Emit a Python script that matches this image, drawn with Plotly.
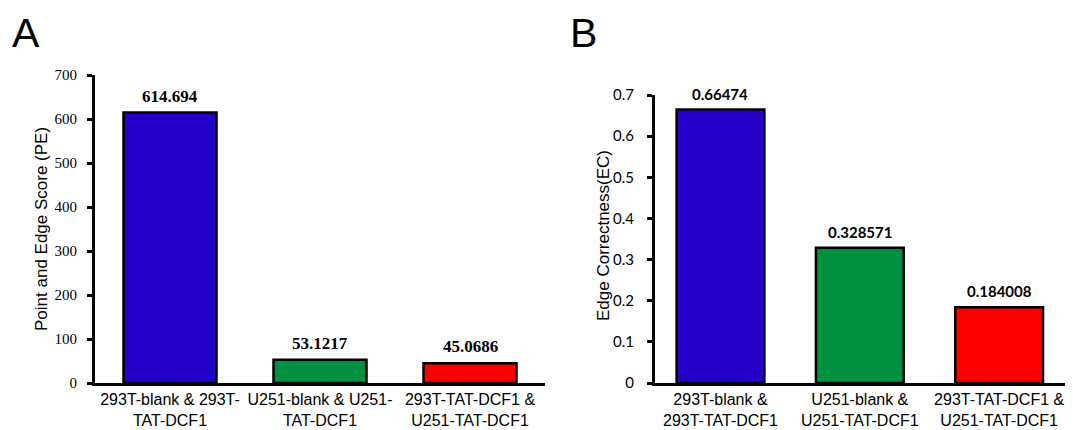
import plotly.graph_objects as go

categories_a = ["293T-blank & 293T-<br>TAT-DCF1", "U251-blank & U251-<br>TAT-DCF1", "293T-TAT-DCF1 &<br>U251-TAT-DCF1"]
categories_b = ["293T-blank &<br>293T-TAT-DCF1", "U251-blank &<br>U251-TAT-DCF1", "293T-TAT-DCF1 &<br>U251-TAT-DCF1"]
pe_values = [614.694, 53.1217, 45.0686]
ec_values = [0.66474, 0.328571, 0.184008]
bar_colors = ["#2400C8", "#00913F", "#FF0000"]
pe_ticks = [0, 100, 200, 300, 400, 500, 600, 700]
ec_ticks = [0, 0.1, 0.2, 0.3, 0.4, 0.5, 0.6, 0.7]
ec_ticktext = ["0", "0.1", "0.2", "0.3", "0.4", "0.5", "0.6", "0.7"]

# page has an 8px body margin, so the figure is drawn 8px smaller and coords are offset
OFF = 8
W, H = 1073 - OFF, 430 - OFF


def px(x):
    return (x - OFF) / W


def py(y):
    return 1 - (y - OFF) / H


fig = go.Figure()

fig.add_trace(go.Bar(x=categories_a, y=pe_values, marker=dict(color=bar_colors, line=dict(color="black", width=2.5)),
                     xaxis="x", yaxis="y", width=0.62, showlegend=False, hoverinfo="skip"))
fig.add_trace(go.Bar(x=categories_b, y=ec_values, marker=dict(color=bar_colors, line=dict(color="black", width=2.5)),
                     xaxis="x2", yaxis="y2", width=0.63, showlegend=False, hoverinfo="skip"))

annotations = []
for c, v in zip(categories_a, pe_values):
    annotations.append(dict(x=c, y=v, xref="x", yref="y", text=f"<b>{v}</b>", showarrow=False,
                            yanchor="bottom", yshift=5,
                            font=dict(family="Liberation Serif", size=17, color="black")))
for c, v in zip(categories_b, ec_values):
    annotations.append(dict(x=c, y=v, xref="x2", yref="y2", text=f"<b>{v}</b>", showarrow=False,
                            yanchor="bottom", yshift=5,
                            font=dict(family="Lato", size=15, color="black")))

annotations += [
    dict(x=px(10), y=py(8), xref="paper", yref="paper", text="A", showarrow=False,
         xanchor="left", yanchor="top", font=dict(family="Liberation Sans", size=41, color="black")),
    dict(x=px(568), y=py(8), xref="paper", yref="paper", text="B", showarrow=False,
         xanchor="left", yanchor="top", font=dict(family="Liberation Sans", size=41, color="black")),
    dict(x=px(41), y=py(229), xref="paper", yref="paper", text="Point and Edge Score (PE)", showarrow=False,
         textangle=-90, xanchor="center", yanchor="middle", font=dict(family="Liberation Sans", size=17, color="black")),
    dict(x=px(603), y=py(236), xref="paper", yref="paper", text="Edge Correctness(EC)", showarrow=False,
         textangle=-90, xanchor="center", yanchor="middle", font=dict(family="Liberation Sans", size=17, color="black")),
]

axis_common = dict(showline=True, linecolor="black", linewidth=3, showgrid=False, zeroline=False, automargin=False)

fig.update_layout(
    width=W, height=H, margin=dict(l=0, r=0, t=0, b=0, autoexpand=False),
    paper_bgcolor="white", plot_bgcolor="white",
    annotations=annotations,
    xaxis=dict(domain=[px(95), px(545)], anchor="y", range=[-0.5, 2.5], ticks="",
               tickfont=dict(family="Liberation Sans", size=16, color="black"), **axis_common),
    yaxis=dict(domain=[py(383), py(75)], anchor="x", range=[0, 700], tickvals=pe_ticks,
               ticks="outside", ticklen=5, tickwidth=2.5, tickcolor="black", ticklabelstandoff=7,
               tickfont=dict(family="Liberation Serif", size=15, color="black"), **axis_common),
    xaxis2=dict(domain=[px(655), 1.0], anchor="y2", range=[-0.47, 2.53], ticks="",
                tickfont=dict(family="Liberation Sans", size=16, color="black"), **axis_common),
    yaxis2=dict(domain=[py(383), py(95)], anchor="x2", range=[0, 0.7], tickvals=ec_ticks,
                ticktext=ec_ticktext,
                ticks="outside", ticklen=5, tickwidth=2.5, tickcolor="black", ticklabelstandoff=10,
                tickfont=dict(family="Lato", size=15, color="black"), **axis_common),
)

fig.write_html("out.html")
